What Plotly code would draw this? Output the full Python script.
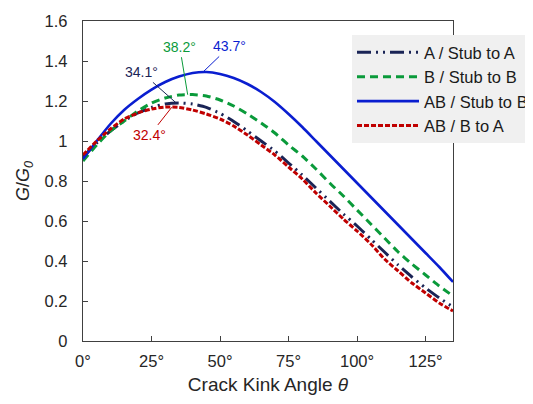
import plotly.graph_objects as go

theta = [0, 5, 10, 15, 20, 25, 30, 35, 40, 45, 50, 55, 60, 65, 70,
         75, 80, 85, 90, 95, 100, 105, 110, 115, 120, 125, 130, 135]

a_stub_a = [0.92, 0.99, 1.05, 1.10, 1.14, 1.168, 1.185, 1.19, 1.185, 1.168, 1.138, 1.098, 1.05, 1.0, 0.95,
            0.89, 0.83, 0.765, 0.70, 0.635, 0.575, 0.51, 0.445, 0.38, 0.32, 0.265, 0.215, 0.17]
b_stub_b = [0.90, 0.98, 1.05, 1.10, 1.15, 1.19, 1.215, 1.23, 1.232, 1.225, 1.205, 1.175, 1.135, 1.09, 1.04,
            0.98, 0.925, 0.86, 0.79, 0.725, 0.655, 0.585, 0.515, 0.445, 0.385, 0.33, 0.275, 0.225]
ab_stub_b = [0.91, 1.00, 1.085, 1.155, 1.21, 1.257, 1.295, 1.322, 1.34, 1.345, 1.335, 1.315, 1.285, 1.245, 1.195,
             1.135, 1.07, 1.0, 0.93, 0.86, 0.79, 0.72, 0.65, 0.58, 0.51, 0.44, 0.37, 0.295]
ab_b_a = [0.93, 1.0, 1.06, 1.11, 1.14, 1.16, 1.17, 1.168, 1.155, 1.135, 1.11, 1.075, 1.03, 0.98, 0.93,
          0.87, 0.81, 0.74, 0.675, 0.61, 0.55, 0.485, 0.41, 0.35, 0.29, 0.24, 0.19, 0.15]

series_names = ["A / Stub to A", "B / Stub to B", "AB / Stub to B", "AB / B to A"]
peak_theta = [34.1, 38.2, 43.7, 32.4]
peak_labels = ["34.1°", "38.2°", "43.7°", "32.4°"]
x_ticks = [0, 25, 50, 75, 100, 125]
x_tick_text = ["0°", "25°", "50°", "75°", "100°", "125°"]

colors = ["#1a2456", "#0a9a3a", "#0a1ed0", "#c00000"]
dashes = ["14px,5px,2px,5px,2px,5px", "8px,5px", "solid", "5px,2px"]
widths = [3, 3, 2.6, 3]

FONT = "Arial, Liberation Sans, sans-serif"

fig = go.Figure()
for i, (name, vals) in enumerate(zip(series_names, [a_stub_a, b_stub_b, ab_stub_b, ab_b_a])):
    fig.add_trace(go.Scatter(
        x=theta, y=vals, name=name, mode="lines", legendgroup=name,
        line=dict(color=colors[i], dash=dashes[i], width=widths[i], shape="spline", smoothing=0.6),
    ))


def interp(xs, ys, x):
    for j in range(len(xs) - 1):
        if xs[j] <= x <= xs[j + 1]:
            t = (x - xs[j]) / (xs[j + 1] - xs[j])
            return ys[j] + t * (ys[j + 1] - ys[j])
    return ys[-1]


offsets = [(-35, -31), (-8, -48), (27, -26), (-22, 28)]
for i, vals in enumerate([a_stub_a, b_stub_b, ab_stub_b, ab_b_a]):
    py = interp(theta, vals, peak_theta[i])
    fig.add_annotation(
        x=peak_theta[i], y=py, text=peak_labels[i], showarrow=True, arrowhead=0,
        arrowwidth=1, arrowcolor=colors[i], ax=offsets[i][0], ay=offsets[i][1],
        font=dict(family=FONT, size=14, color=colors[i]),
        standoff=0, startstandoff=1,
    )

# page body adds an 8px offset; margins compensate so the plot box sits at 83..453 x 21..341
fig.update_layout(
    width=541, height=404,
    margin=dict(l=75, r=96, t=13, b=71, autoexpand=False),
    paper_bgcolor="white", plot_bgcolor="white",
    font=dict(family=FONT, size=16, color="#262626"),
    legend=dict(
        x=(344 - 75) / 370, xanchor="left",
        y=(333 - 27) / 320, yanchor="top",
        bgcolor="#f0f0f0", borderwidth=0,
        font=dict(family=FONT, size=16.5, color="#1a1a1a"),
        itemwidth=62, tracegroupgap=0,
    ),
    showlegend=True,
)

fig.update_xaxes(
    range=[0, 135], tickvals=x_ticks, ticktext=x_tick_text,
    ticks="inside", ticklen=5, tickcolor="#404040", tickwidth=1.3,
    showline=True, linecolor="#404040", linewidth=1.3, mirror=True,
    showgrid=False, zeroline=False, ticklabelstandoff=5,
    tickfont=dict(size=16.5),
    title=dict(text="Crack Kink Angle <i>θ</i>", font=dict(size=19, color="#262626"), standoff=8),
)
fig.update_yaxes(
    range=[0, 1.6], dtick=0.2, tick0=0,
    ticks="inside", ticklen=5, tickcolor="#404040", tickwidth=1.3,
    showline=True, linecolor="#404040", linewidth=1.3, mirror=True,
    showgrid=False, zeroline=False, ticklabelstandoff=11,
    tickfont=dict(size=16.5),
    title=dict(text="<i>G</i>/<i>G</i><sub><i>0</i></sub>", font=dict(size=18, color="#262626"), standoff=10),
)

fig.write_html("out.html")
